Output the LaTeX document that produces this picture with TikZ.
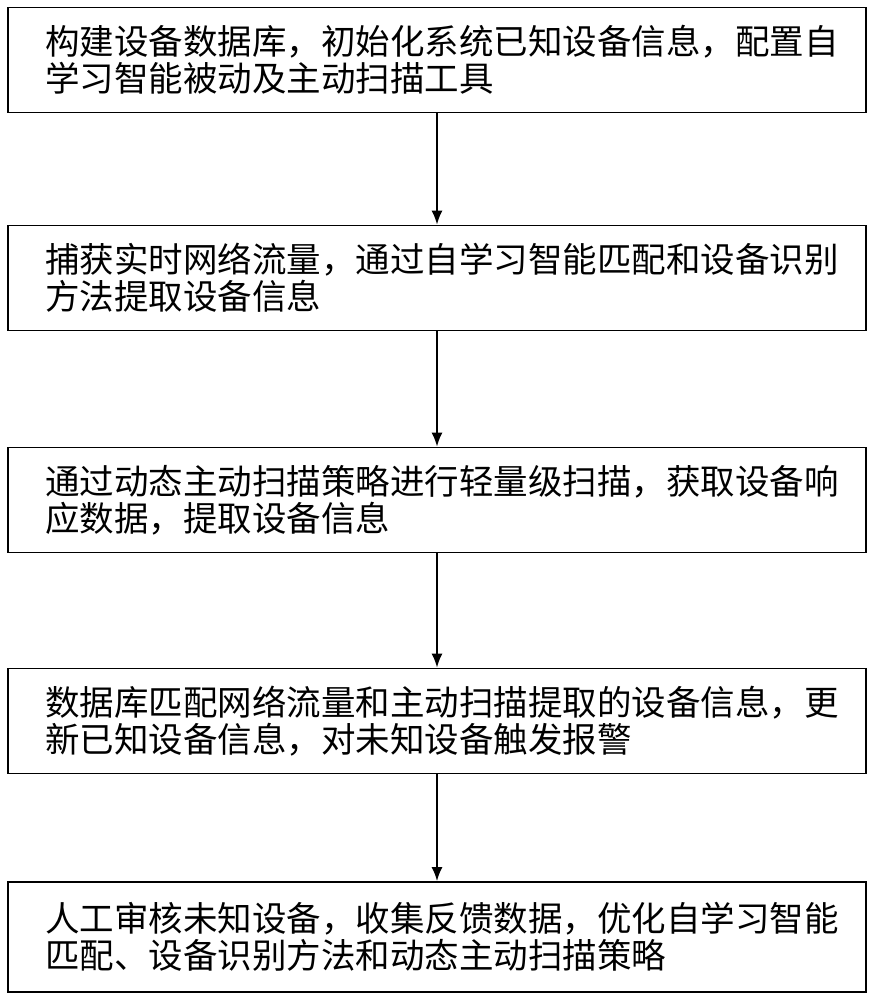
\documentclass[tikz,border=0pt]{standalone}
\usepackage{fontspec}
\newfontfamily\cjk{Noto Sans CJK SC}
\usetikzlibrary{positioning,arrows.meta}
\tikzset{
  stepbox/.style={draw, line width=1.6pt, minimum height=105pt,
    text width=784pt, align=left, inner xsep=37pt, inner ysep=0pt,
    font=\cjk\fontsize{34.5}{37}\selectfont},
  steparrow/.style={draw, line width=2pt, -{Latex[length=14pt,width=11pt]}}
}
\begin{document}
\begin{tikzpicture}[x=1pt,y=1pt]
\useasboundingbox (0,0) rectangle (872,-1000);

\node[stepbox] (s1) at (437,-60) {构建设备数据库，初始化系统已知设备信息，配置自\\学习智能被动及主动扫描工具};
\node[stepbox] (s2) at (437,-278) {捕获实时网络流量，通过自学习智能匹配和设备识别\\方法提取设备信息};
\node[stepbox] (s3) at (437,-500) {通过动态主动扫描策略进行轻量级扫描，获取设备响\\应数据，提取设备信息};
\node[stepbox] (s4) at (437,-721) {数据库匹配网络流量和主动扫描提取的设备信息，更\\新已知设备信息，对未知设备触发报警};
\node[stepbox, minimum height=110pt] (s5) at (437,-937) {人工审核未知设备，收集反馈数据，优化自学习智能\\匹配、设备识别方法和动态主动扫描策略};

\path[steparrow] (s1) -- (s2);
\path[steparrow] (s2) -- (s3);
\path[steparrow] (s3) -- (s4);
\path[steparrow] (s4) -- (s5);

\end{tikzpicture}
\end{document}
